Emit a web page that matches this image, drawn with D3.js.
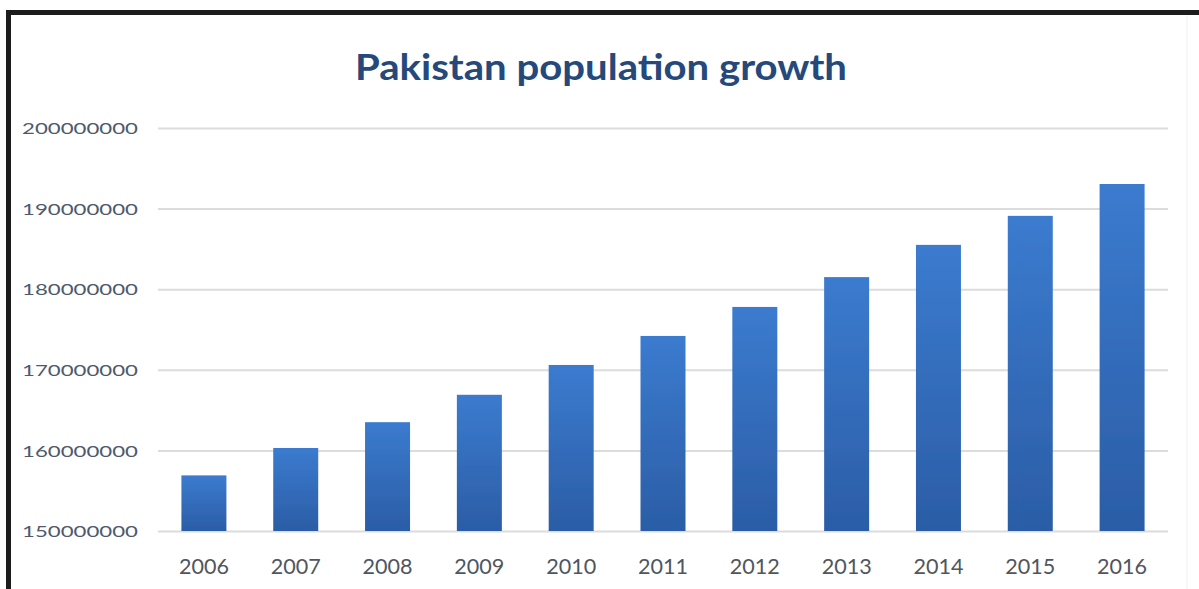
<!DOCTYPE html>
<html>
<head>
<meta charset="utf-8">
<script src="https://cdn.jsdelivr.net/npm/d3@7"></script>
<style>
  html, body { margin: 0; padding: 0; background: #ffffff; }
  svg { display: block; }
</style>
</head>
<body>
<svg id="chart" width="1199" height="589"></svg>
<script>
// Pakistan population by year
const years = ["2006", "2007", "2008", "2009", "2010", "2011", "2012", "2013", "2014", "2015", "2016"];
const population = [156900000, 160300000, 163500000, 166900000, 170600000, 174200000,
                    177800000, 181500000, 185500000, 189100000, 193050000];
const yTicks = [150000000, 160000000, 170000000, 180000000, 190000000, 200000000];
const chartTitle = "Pakistan population growth";

const svg = d3.select("#chart");
const W = 1199, H = 589;
const plot = { left: 158, right: 1168, top: 128, bottom: 531 };

// Frame (top and left rules)
svg.append("rect").attr("x", 0).attr("y", 0).attr("width", W).attr("height", H).attr("fill", "#ffffff");
svg.append("line").attr("x1", 6).attr("x2", W).attr("y1", 12.5).attr("y2", 12.5)
  .attr("stroke", "#1c1c1c").attr("stroke-width", 5);
svg.append("line").attr("x1", 8.5).attr("x2", 8.5).attr("y1", 10).attr("y2", H)
  .attr("stroke", "#1c1c1c").attr("stroke-width", 5);
svg.append("line").attr("x1", 1187).attr("x2", 1187).attr("y1", 15).attr("y2", H)
  .attr("stroke", "#f1f1f1").attr("stroke-width", 1);

const x = d3.scaleBand()
  .domain(years)
  .range([plot.left, plot.right])
  .paddingInner(0.51)
  .paddingOuter(0.255);

const y = d3.scaleLinear()
  .domain([150000000, 200000000])
  .range([plot.bottom, plot.top]);

// Bar gradient
const defs = svg.append("defs");
const grad = defs.append("linearGradient").attr("id", "barFill")
  .attr("x1", 0).attr("y1", 0).attr("x2", 0).attr("y2", 1);
grad.append("stop").attr("offset", "0%").attr("stop-color", "#3b7bcf");
grad.append("stop").attr("offset", "100%").attr("stop-color", "#2b5da6");

const glow = defs.append("filter").attr("id", "soft")
  .attr("x", "-20%").attr("y", "-5%").attr("width", "140%").attr("height", "110%");
glow.append("feGaussianBlur").attr("stdDeviation", 0.6);

// Gridlines and y labels
const yAxis = d3.axisLeft(y)
  .tickValues(yTicks)
  .tickSize(-(plot.right - plot.left))
  .tickPadding(20)
  .tickFormat(d3.format("d"));

const gy = svg.append("g")
  .attr("transform", `translate(${plot.left},0)`)
  .call(yAxis);
gy.select(".domain").remove();
gy.selectAll(".tick line").attr("stroke", "#dcdcdc").attr("stroke-width", 2);
gy.selectAll(".tick text")
  .attr("fill", "#4d5a6c")
  .attr("font-family", "Lato, 'Open Sans', sans-serif")
  .attr("font-size", 16)
  .attr("x", -20)
  .attr("dy", "0.36em")
  .attr("textLength", 116)
  .attr("lengthAdjust", "spacingAndGlyphs");

// Bars
svg.append("g").selectAll("rect")
  .data(years.map((yr, i) => ({ year: yr, value: population[i] })))
  .join("rect")
  .attr("x", d => x(d.year))
  .attr("width", x.bandwidth())
  .attr("y", d => y(d.value))
  .attr("height", d => y(150000000) - y(d.value))
  .attr("fill", "url(#barFill)")
  .attr("filter", "url(#soft)");

// X labels
const xAxis = d3.axisBottom(x).tickSize(0).tickPadding(0);
const gx = svg.append("g")
  .attr("transform", `translate(0,${plot.bottom})`)
  .call(xAxis);
gx.select(".domain").remove();
gx.selectAll(".tick text")
  .attr("fill", "#4f5660")
  .attr("font-family", "Lato, 'Open Sans', sans-serif")
  .attr("font-size", 21)
  .attr("y", 43)
  .attr("dy", 0)
  .attr("textLength", 50)
  .attr("lengthAdjust", "spacingAndGlyphs");

// Title
svg.append("text")
  .attr("x", 601)
  .attr("y", 80)
  .attr("text-anchor", "middle")
  .attr("fill", "#24497a")
  .attr("font-family", "Lato, 'Open Sans', sans-serif")
  .attr("font-weight", "bold")
  .attr("font-size", 37)
  .attr("textLength", 492)
  .attr("lengthAdjust", "spacingAndGlyphs")
  .text(chartTitle);
</script>
</body>
</html>
